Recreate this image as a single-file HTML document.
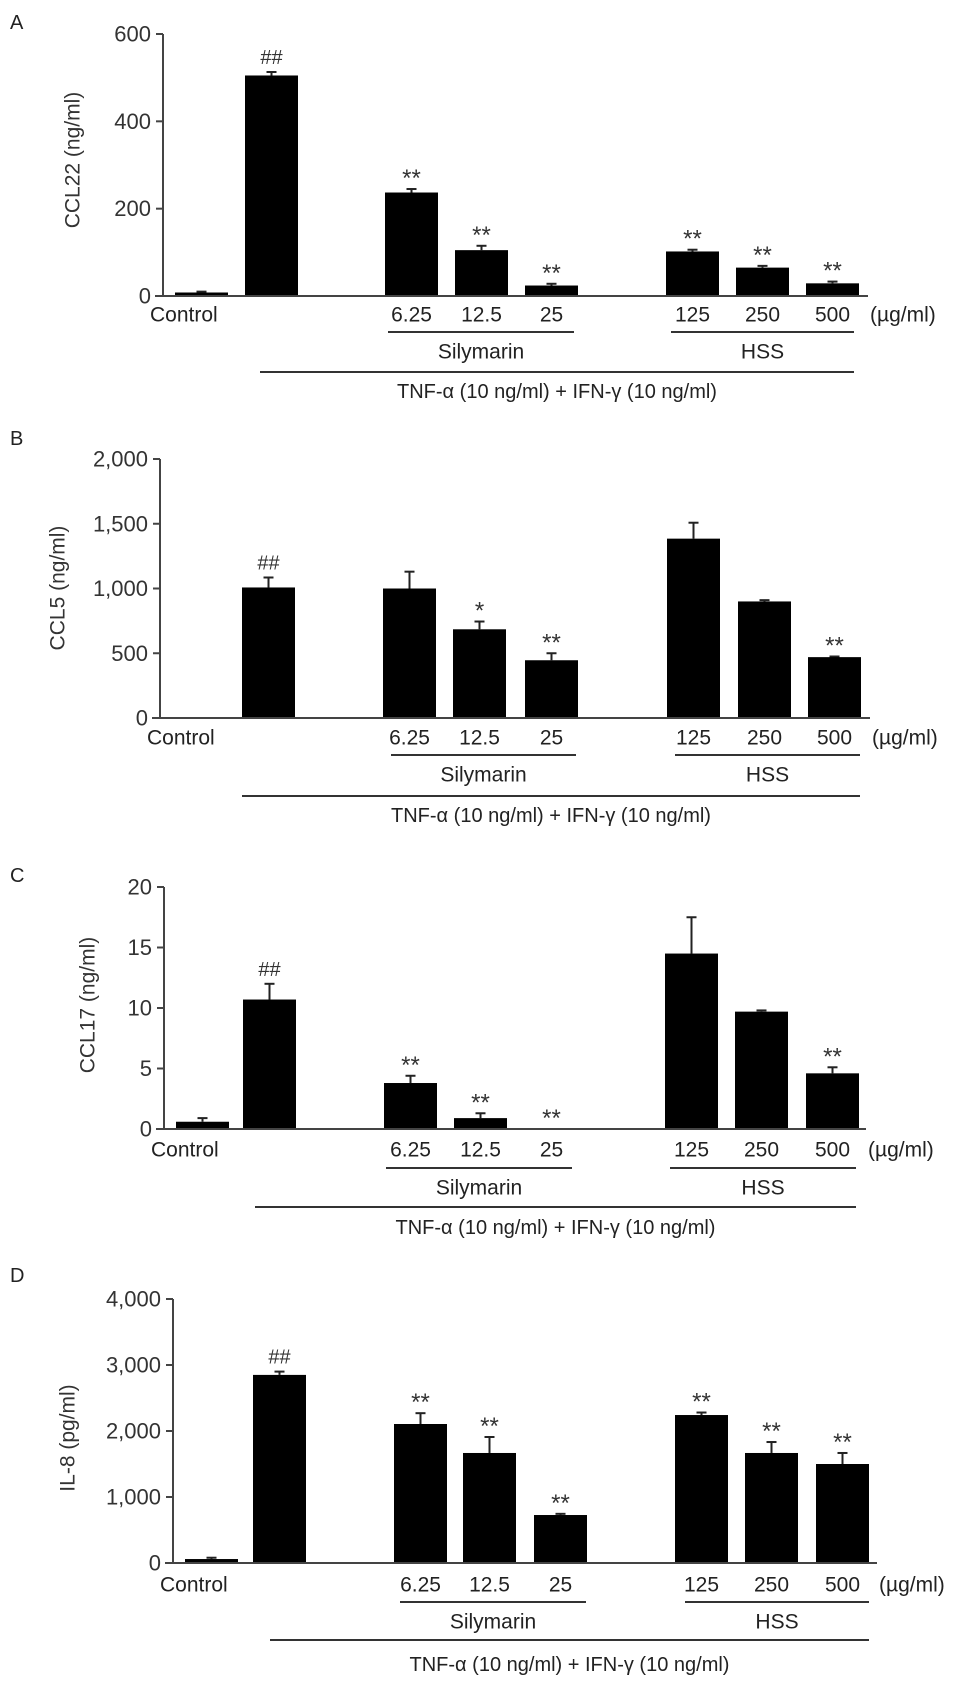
<!DOCTYPE html>
<html><head><meta charset="utf-8">
<style>
body{margin:0;background:#fff;}
svg{display:block;font-family:"Liberation Sans",Arial,sans-serif;}
</style></head>
<body>
<svg id="fig" width="969" height="1690" viewBox="0 0 969 1690"></svg>
<script>
const categories = ["Control","TNF+IFN","6.25","12.5","25","125","250","500"];
const tickLabels = ["Control","","6.25","12.5","25","125","250","500"];
const ccl22Values = [8,505,237,105,24,102,65,29];
const ccl22Errors = [2,8,8,10,4,4,4,4];
const ccl22Marks = ["","##","**","**","**","**","**","**"];
const ccl5Values = [0,1008,1000,685,446,1385,900,470];
const ccl5Errors = [0,77,130,60,54,123,10,5];
const ccl5Marks = ["","##","","*","**","","","**"];
const ccl17Values = [0.6,10.7,3.8,0.9,0,14.5,9.7,4.6];
const ccl17Errors = [0.3,1.3,0.6,0.4,0,3.0,0.1,0.5];
const ccl17Marks = ["","##","**","**","**","","","**"];
const il8Values = [60,2850,2106,1667,727,2242,1667,1500];
const il8Errors = [20,50,164,242,18,38,166,167];
const il8Marks = ["","##","**","**","**","**","**","**"];
const ccl22Ticks = [0,200,400,600];
const ccl5Ticks = [0,500,1000,1500,2000];
const ccl17Ticks = [0,5,10,15,20];
const il8Ticks = [0,1000,2000,3000,4000];

const NS="http://www.w3.org/2000/svg";
const svg=document.getElementById('fig');
function mk(tag,attrs,parent,text){
  const e=document.createElementNS(NS,tag);
  for(const k in attrs)e.setAttribute(k,attrs[k]);
  if(text!==undefined)e.textContent=text;
  (parent||svg).appendChild(e);return e;
}
const panels=[
 {letter:"A",ly:22,title:"CCL22 (ng/ml)",tx:73,ty:160,ax:163,y0:296,yt:34,max:600,ticks:ccl22Ticks,fmt:v=>String(v),
  vals:ccl22Values,errs:ccl22Errors,marks:ccl22Marks,bx:[175,245,385,455,525,666,736,806],end:868,
  lab:315,sl:332,sx:[388,574],hx:[671,854],st:352,tl:372,tlx:260,tt:392,tnf:"TNF-α  (10 ng/ml) + IFN-γ  (10 ng/ml)",name:"ccl22"},
 {letter:"B",ly:438,title:"CCL5 (ng/ml)",tx:58,ty:588,ax:160,y0:718,yt:459,max:2000,ticks:ccl5Ticks,fmt:v=>v.toLocaleString('en-US'),
  vals:ccl5Values,errs:ccl5Errors,marks:ccl5Marks,bx:[172,242,383,453,525,667,738,808],end:870,
  lab:738,sl:755,sx:[391,576],hx:[675,860],st:775,tl:796,tlx:242,tt:816,tnf:"TNF-α (10 ng/ml)  + IFN-γ (10 ng/ml)",name:"ccl5"},
 {letter:"C",ly:875,title:"CCL17 (ng/ml)",tx:88,ty:1005,ax:164,y0:1129,yt:887,max:20,ticks:ccl17Ticks,fmt:v=>String(v),
  vals:ccl17Values,errs:ccl17Errors,marks:ccl17Marks,bx:[176,243,384,454,525,665,735,806],end:866,
  lab:1150,sl:1168,sx:[386,572],hx:[670,856],st:1188,tl:1207,tlx:255,tt:1228,tnf:"TNF-α (10 ng/ml)  + IFN-γ (10 ng/ml)",name:"ccl17"},
 {letter:"D",ly:1275,title:"IL-8 (pg/ml)",tx:68,ty:1438,ax:173,y0:1563,yt:1299,max:4000,ticks:il8Ticks,fmt:v=>v.toLocaleString('en-US'),
  vals:il8Values,errs:il8Errors,marks:il8Marks,bx:[185,253,394,463,534,675,745,816],end:877,
  lab:1585,sl:1602,sx:[400,586],hx:[685,869],st:1622,tl:1640,tlx:270,tt:1665,tnf:"TNF-α (10 ng/ml)  + IFN-γ  (10 ng/ml)",name:"il8"}
];
const W=53;
panels.forEach(p=>{
  const g=mk('g',{});
  
  
  const yS=v=>p.y0-(v/p.max)*(p.y0-p.yt);
  const L=mk('text',{x:10,y:p.ly+7,'font-size':20,fill:'#222'},g,p.letter);
  
  
  const T=mk('text',{x:p.tx,y:p.ty,'font-size':21,fill:'#333','text-anchor':'middle','dominant-baseline':'central',transform:`rotate(-90 ${p.tx} ${p.ty})`},g,p.title);
  
  
  const ya=mk('line',{x1:p.ax,y1:p.yt,x2:p.ax,y2:p.y0,stroke:'#444','stroke-width':2},g);
  
  
  p.ticks.forEach(t=>{
    const y=yS(t);
    mk('line',{x1:p.ax-7,y1:y,x2:p.ax,y2:y,stroke:'#444','stroke-width':2},g);
    const tl=mk('text',{x:p.ax-12,y:y,'font-size':22,fill:'#333','text-anchor':'end','dominant-baseline':'central'},g,p.fmt(t));
    
    
  });
  p.vals.forEach((v,i)=>{
    const x=p.bx[i],top=yS(v);
    if(v>0){
      const eTop=yS(v+p.errs[i]);
      mk('line',{x1:x+W/2,y1:eTop,x2:x+W/2,y2:top,stroke:'#222','stroke-width':2},g);
      mk('line',{x1:x+W/2-5,y1:eTop,x2:x+W/2+5,y2:eTop,stroke:'#222','stroke-width':2},g);
      const b=mk('rect',{x:x,y:top,width:W,height:p.y0-top,fill:'#000'},g);
      
      
    }
    if(p.marks[i]){
      const isHash=p.marks[i]==='##';
      const mY=(v>0?yS(v+p.errs[i]):p.y0)-(isHash?8:3);
      const m=mk('text',{x:x+W/2,y:mY,'font-size':isHash?20:24,fill:'#333','text-anchor':'middle'},g,p.marks[i]);
      
      
    }
    const lx=i===0?p.ax-13:x+W/2;
    const cl=mk('text',{x:lx,y:p.lab,'font-size':21,fill:'#222','text-anchor':i===0?'start':'middle','dominant-baseline':'central'},g,tickLabels[i]);
    
    
  });
  const xa=mk('line',{x1:p.ax-8,y1:p.y0,x2:p.end,y2:p.y0,stroke:'#444','stroke-width':2},g);
  
  
  const u=mk('text',{x:p.end+2,y:p.lab,'font-size':21,fill:'#222','dominant-baseline':'central'},g,'(µg/ml)');
  
  
  mk('line',{x1:p.sx[0],y1:p.sl,x2:p.sx[1],y2:p.sl,stroke:'#333','stroke-width':2},g);
  mk('line',{x1:p.hx[0],y1:p.sl,x2:p.hx[1],y2:p.sl,stroke:'#333','stroke-width':2},g);
  const s=mk('text',{x:(p.sx[0]+p.sx[1])/2,y:p.st,'font-size':21,fill:'#222','text-anchor':'middle','dominant-baseline':'central'},g,'Silymarin');
  
  
  const h=mk('text',{x:(p.hx[0]+p.hx[1])/2,y:p.st,'font-size':21,fill:'#222','text-anchor':'middle','dominant-baseline':'central'},g,'HSS');
  
  
  mk('line',{x1:p.tlx,y1:p.tl,x2:p.hx[1],y2:p.tl,stroke:'#333','stroke-width':2},g);
  const tn=mk('text',{x:(p.tlx+p.hx[1])/2,y:p.tt,'font-size':20,fill:'#222','text-anchor':'middle','dominant-baseline':'central'},g,p.tnf);
  
  
});
</script>
</body></html>
